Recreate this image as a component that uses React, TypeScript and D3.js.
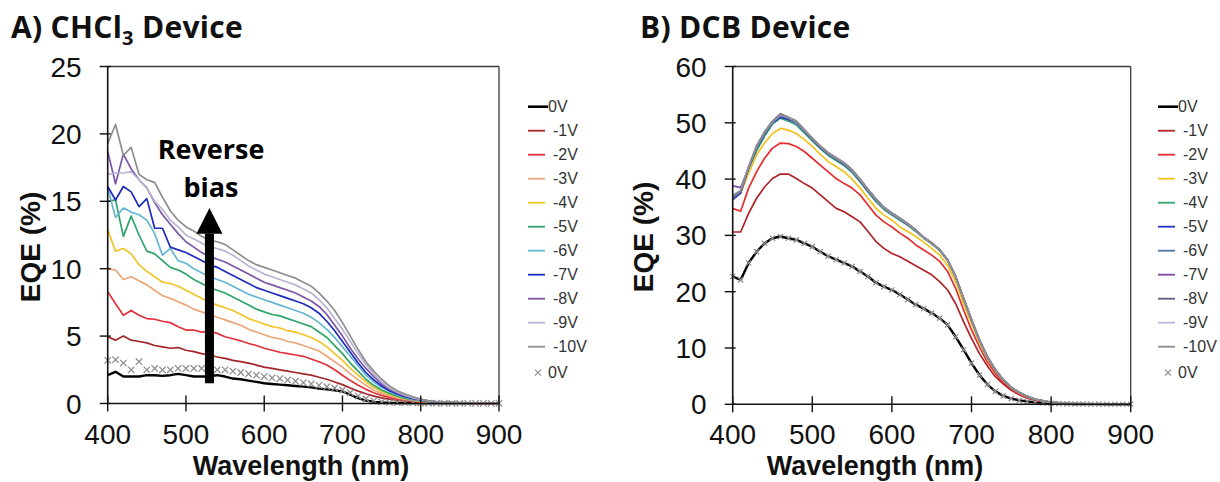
import React from 'react';
import * as d3 from 'd3';

// ---------- DATA ----------
const WAVELENGTH = [400,410,420,430,440,450,460,470,480,490,500,510,520,530,540,550,560,570,580,590,600,610,620,630,640,650,660,670,680,690,700,710,720,730,740,750,760,770,780,790,800,810,820,830,840,850,860,870,880,890,900];
const X_TICKS = [400, 500, 600, 700, 800, 900];
const Y_TICKS_A = [0, 5, 10, 15, 20, 25];
const Y_TICKS_B = [0, 10, 20, 30, 40, 50, 60];
const SERIES_LABELS = ['0V', '-1V', '-2V', '-3V', '-4V', '-5V', '-6V', '-7V', '-8V', '-9V', '-10V'];

// A) CHCl3 device
const A_0V = [2.1,2.35,2.0,2.0,2.0,2.1,2.1,2.05,2.1,2.2,2.1, 2.0,2.0,2.0,2.1,2.0,1.85,1.8,1.7,1.6,1.5, 1.45,1.4,1.35,1.3,1.25,1.2,1.1,1.05,0.98,0.9, 0.65,0.4,0.22,0.12,0.07,0.05,0.04,0.03,0.03,0.02, 0.02,0.02,0.01,0.01,0.01,0.01,0.01,0.01,0.01,0.01];
const A_1V = [4.95,4.7,5.0,4.7,4.6,4.5,4.3,4.2,4.1,4.15,3.95, 3.85,3.7,3.6,3.45,3.35,3.2,3.1,3.0,2.85,2.7, 2.6,2.5,2.4,2.3,2.2,2.1,1.95,1.8,1.6,1.4, 1.15,0.92,0.72,0.55,0.42,0.32,0.24,0.17,0.12,0.09, 0.06,0.05,0.04,0.03,0.02,0.02,0.01,0.01,0.01,0.01];
const A_2V = [8.3,7.4,6.55,6.9,6.55,6.3,6.25,6.1,6.0,5.7,5.45, 5.45,5.3,5.35,5.2,4.95,4.8,4.65,4.45,4.3,4.1, 3.95,3.8,3.7,3.6,3.5,3.3,3.1,2.85,2.5,2.1, 1.7,1.35,1.05,0.8,0.6,0.45,0.33,0.24,0.17,0.12, 0.08,0.06,0.05,0.04,0.03,0.02,0.02,0.01,0.01,0.01];
const A_3V = [10.0,9.9,9.2,9.4,9.1,8.8,8.4,8.0,7.8,7.55,7.3, 7.0,6.8,6.6,6.4,6.2,6.0,5.8,5.5,5.3,5.1, 4.9,4.8,4.6,4.5,4.3,4.1,3.9,3.5,3.1,2.7, 2.2,1.75,1.35,1.0,0.75,0.56,0.42,0.3,0.21,0.15, 0.1,0.08,0.06,0.04,0.03,0.03,0.02,0.02,0.01,0.01];
const A_4V = [12.9,11.3,11.5,11.1,10.3,9.8,9.4,9.0,8.9,8.7,8.4, 8.1,7.8,7.5,7.3,7.1,6.9,6.6,6.3,6.1,5.9, 5.7,5.6,5.4,5.3,5.1,4.9,4.6,4.2,3.7,3.2, 2.6,2.1,1.6,1.2,0.9,0.68,0.5,0.36,0.25,0.18, 0.13,0.09,0.07,0.05,0.04,0.03,0.02,0.02,0.02,0.01];
const A_5V = [15.0,15.1,12.4,13.9,12.5,11.3,11.1,10.6,10.1,9.9,9.6, 9.2,8.9,8.6,8.4,8.2,7.9,7.6,7.3,7.0,6.8, 6.6,6.5,6.3,6.1,5.9,5.7,5.3,4.9,4.3,3.7, 3.0,2.4,1.8,1.35,1.0,0.75,0.55,0.4,0.28,0.2, 0.14,0.1,0.07,0.05,0.04,0.03,0.03,0.02,0.02,0.02];
const A_6V = [16.0,13.8,14.5,14.2,14.0,13.6,12.6,11.0,11.5,10.6,10.4, 10.0,9.7,9.4,9.2,9.0,8.7,8.4,8.1,7.9,7.7, 7.5,7.3,7.1,6.9,6.7,6.4,6.0,5.5,4.9,4.2, 3.5,2.8,2.1,1.6,1.2,0.9,0.65,0.47,0.33,0.23, 0.16,0.11,0.08,0.06,0.05,0.04,0.03,0.02,0.02,0.02];
const A_7V = [16.1,15.1,16.1,15.7,14.6,15.2,13.0,13.0,11.6,11.4,11.2, 10.9,10.6,10.3,10.1,9.8,9.5,9.2,8.9,8.6,8.4, 8.2,8.0,7.8,7.6,7.4,7.1,6.7,6.1,5.4,4.6, 3.8,3.0,2.3,1.75,1.3,0.95,0.7,0.5,0.35,0.25, 0.17,0.12,0.09,0.07,0.05,0.04,0.03,0.03,0.02,0.02];
const A_8V = [18.7,16.3,18.5,17.4,16.6,16.0,14.9,14.0,13.3,12.6,12.0, 11.6,11.2,10.9,10.7,10.5,10.2,9.9,9.6,9.3,9.0, 8.8,8.6,8.4,8.2,7.9,7.6,7.2,6.6,5.8,5.0, 4.1,3.3,2.6,2.0,1.45,1.05,0.78,0.56,0.39,0.27, 0.18,0.13,0.1,0.07,0.05,0.04,0.03,0.03,0.02,0.02];
const A_9V = [17.0,17.1,17.1,17.2,16.6,16.0,15.0,14.4,13.6,13.1,12.5, 12.2,11.9,11.6,11.5,11.3,11.0,10.6,10.2,9.9,9.6, 9.4,9.2,9.0,8.8,8.5,8.2,7.7,7.1,6.3,5.5, 4.6,3.7,2.9,2.2,1.6,1.15,0.85,0.62,0.43,0.3, 0.2,0.14,0.1,0.08,0.06,0.05,0.04,0.03,0.02,0.02];
const A_10V = [19.3,20.7,18.4,19.0,17.0,16.6,16.4,15.3,14.3,13.6,13.1, 12.8,12.4,12.1,12.0,11.8,11.4,11.0,10.6,10.3,10.1, 9.9,9.7,9.5,9.3,9.0,8.7,8.2,7.6,6.9,6.0, 5.0,4.0,3.1,2.4,1.8,1.3,0.95,0.7,0.5,0.33, 0.22,0.15,0.1,0.08,0.06,0.05,0.04,0.03,0.02,0.02];
const A_0V_MARK = [3.2,3.25,3.0,2.5,3.1,2.5,2.6,2.5,2.5,2.6,2.6, 2.6,2.6,2.6,2.5,2.5,2.4,2.3,2.2,2.1,2.0, 1.9,1.85,1.75,1.65,1.55,1.45,1.35,1.25,1.15,1.0, 0.8,0.55,0.35,0.2,0.12,0.08,0.06,0.05,0.04,0.03, 0.02,0.02,0.02,0.01,0.01,0.01,0.01,0.01,0.01,0.01];

// B) DCB device
const B_0V = [22.7,22.1,25.1,27.1,28.6,29.5,29.8,29.5,29.2,28.6,28.0, 27.1,26.3,25.7,25.1,24.5,23.6,22.7,21.6,20.9,20.3, 19.5,18.6,17.7,17.0,16.2,15.3,14.1,12.0,9.7,7.3, 5.2,3.5,2.3,1.5,1.0,0.7,0.5,0.35,0.25,0.18, 0.12,0.08,0.06,0.05,0.04,0.03,0.02,0.02,0.01,0.01];
const B_1V = [30.6,30.6,33.9,36.6,38.6,40.1,40.9,40.9,40.1,39.2,38.4, 37.2,36.0,34.8,34.2,33.3,32.4,30.7,28.9,27.7,26.8, 26.2,25.4,24.6,23.8,23.0,21.8,20.3,17.9,14.7,11.7, 9.0,6.8,4.9,3.6,2.5,1.7,1.1,0.7,0.5,0.3, 0.2,0.13,0.09,0.06,0.05,0.04,0.03,0.02,0.02,0.01];
const B_2V = [34.8,34.3,38.4,41.3,43.7,45.5,46.4,46.3,45.8,44.9,43.7, 42.5,41.3,40.1,39.2,38.4,37.2,35.4,33.6,32.4,31.5, 30.4,29.5,28.3,27.4,26.5,25.4,23.6,20.6,16.8,13.2, 10.2,7.5,5.5,3.8,2.7,1.8,1.2,0.8,0.5,0.3, 0.2,0.13,0.09,0.06,0.05,0.04,0.03,0.02,0.02,0.01];
const B_3V = [37.2,37.5,41.0,44.3,46.4,48.1,49.0,48.7,48.1,47.0,45.8, 44.4,43.1,42.2,41.3,40.0,38.4,36.6,34.8,33.6,32.7, 31.5,30.7,29.8,28.8,27.7,26.5,24.7,21.8,17.9,14.3, 10.9,8.1,5.9,4.2,2.9,2.0,1.3,0.9,0.55,0.35, 0.22,0.14,0.1,0.07,0.05,0.04,0.03,0.02,0.02,0.01];
const B_4V = [36.8,37.9,41.8,45.0,47.6,49.8,50.8,50.3,49.6,48.2,46.8, 45.4,44.2,43.3,42.4,41.2,39.5,37.7,36.0,34.6,33.6, 32.7,31.8,30.7,29.5,28.5,27.3,25.5,22.6,18.7,14.9, 11.3,8.3,6.0,4.3,3.0,2.1,1.4,0.9,0.6,0.36, 0.24,0.14,0.1,0.07,0.05,0.04,0.03,0.02,0.02,0.01];
const B_5V = [36.3,37.5,42.0,45.5,48.0,50.0,51.0,50.6,50.0,48.5,47.0, 45.6,44.4,43.5,42.6,41.4,39.7,37.9,36.2,34.8,33.8, 32.9,31.9,30.8,29.6,28.6,27.4,25.6,22.7,18.8,15.0, 11.4,8.4,6.1,4.3,3.0,2.1,1.4,0.9,0.6,0.36, 0.24,0.14,0.1,0.07,0.05,0.04,0.03,0.02,0.02,0.01];
const B_6V = [36.5,37.8,42.1,45.7,48.2,50.1,51.3,50.8,50.1,48.6,47.1, 45.7,44.5,43.6,42.7,41.5,39.8,38.0,36.3,34.9,33.9, 33.0,32.0,30.9,29.6,28.6,27.4,25.6,22.7,18.8,15.0, 11.4,8.4,6.1,4.3,3.0,2.1,1.4,0.9,0.6,0.36, 0.24,0.14,0.1,0.07,0.05,0.04,0.03,0.02,0.02,0.01];
const B_7V = [38.8,38.5,42.0,45.8,48.3,50.2,51.5,50.9,50.2,48.7,47.2, 45.8,44.6,43.7,42.8,41.6,39.9,38.1,36.4,34.9,33.9, 33.0,32.0,30.9,29.6,28.6,27.4,25.6,22.7,18.8,15.0, 11.4,8.4,6.1,4.3,3.0,2.1,1.4,0.9,0.6,0.36, 0.24,0.14,0.1,0.07,0.05,0.04,0.03,0.02,0.02,0.01];
const B_8V = [36.8,37.9,42.2,45.9,48.4,50.3,51.6,51.0,50.3,48.8,47.3, 45.9,44.7,43.8,42.9,41.7,40.0,38.2,36.5,35.0,34.0, 33.1,32.1,31.0,29.7,28.7,27.5,25.7,22.8,18.9,15.1, 11.5,8.5,6.2,4.4,3.0,2.1,1.4,0.9,0.6,0.36, 0.24,0.14,0.1,0.07,0.05,0.04,0.03,0.02,0.02,0.01];
const B_9V = [37.2,38.0,42.2,45.8,48.3,50.2,51.4,50.9,50.2,48.7,47.2, 45.8,44.6,43.7,42.8,41.6,39.9,38.1,36.4,34.9,33.9, 33.0,32.0,30.9,29.6,28.6,27.4,25.6,22.7,18.8,15.0, 11.4,8.4,6.1,4.3,3.0,2.1,1.4,0.9,0.6,0.36, 0.24,0.14,0.1,0.07,0.05,0.04,0.03,0.02,0.02,0.01];
const B_10V = [37.0,37.9,42.2,45.8,48.3,50.2,51.5,50.9,50.2,48.7,47.2, 45.8,44.6,43.7,42.8,41.6,39.9,38.1,36.4,34.9,33.9, 33.0,32.0,30.9,29.6,28.6,27.4,25.6,22.7,18.8,15.0, 11.4,8.4,6.1,4.3,3.0,2.1,1.4,0.9,0.6,0.36, 0.24,0.14,0.1,0.07,0.05,0.04,0.03,0.02,0.02,0.01];
const B_0V_MARK = [22.7,22.1,25.1,27.1,28.6,29.5,29.8,29.5,29.2,28.6,28.0, 27.1,26.3,25.7,25.1,24.5,23.6,22.7,21.6,20.9,20.3, 19.5,18.6,17.7,17.0,16.2,15.3,14.1,12.0,9.7,7.3, 5.2,3.5,2.3,1.5,1.0,0.7,0.5,0.35,0.25,0.18, 0.12,0.08,0.06,0.05,0.04,0.03,0.02,0.02,0.01,0.01];

const COLORS_A = ['#000000', '#a3262a', '#e2313a', '#eba779', '#f2c42a', '#2ea56b', '#63b7d2', '#1e2bbf', '#7b56a9', '#b9b3d3', '#8e8e8e'];
const COLORS_B = ['#000000', '#b02328', '#e52d2f', '#f5c11f', '#31a770', '#2a32c6', '#4c73ab', '#7a4aa6', '#5b5b7a', '#bdb6d8', '#8b8b8b'];

const DATA_A = [A_0V, A_1V, A_2V, A_3V, A_4V, A_5V, A_6V, A_7V, A_8V, A_9V, A_10V];
const DATA_B = [B_0V, B_1V, B_2V, B_3V, B_4V, B_5V, B_6V, B_7V, B_8V, B_9V, B_10V];

const AXIS_FONT = "'Liberation Sans', Arial, sans-serif";
const TITLE_FONT = "'Open Sans', 'Noto Sans', sans-serif";

type PanelProps = {
  x0: number; x1: number; yBottom: number; yTop: number;
  yMax: number; yTicks: number[];
  data: number[][]; colors: string[]; marks: number[];
  legendX: number; xTitleX: number; yTitleX: number; yTitleY: number;
  markSize: number;
  children?: (x: d3.ScaleLinear<number, number>, y: d3.ScaleLinear<number, number>) => React.ReactNode;
};

function cross(cx: number, cy: number, s: number) {
  return `M${cx - s},${cy - s}L${cx + s},${cy + s}M${cx - s},${cy + s}L${cx + s},${cy - s}`;
}

function Panel(p: PanelProps) {
  const x = d3.scaleLinear().domain([400, 900]).range([p.x0, p.x1]);
  const y = d3.scaleLinear().domain([0, p.yMax]).range([p.yBottom, p.yTop]);
  const line = d3.line<number>().x((_, i) => x(WAVELENGTH[i])).y((d) => y(d)).curve(d3.curveLinear);
  const legendRow = (i: number) => 106.7 + i * 24;
  return (
    <g>
      {/* frame */}
      <line x1={p.x0} x2={p.x1} y1={p.yTop} y2={p.yTop} stroke="#3a3a3a" strokeWidth={1.3} />
      <line x1={p.x1} x2={p.x1} y1={p.yTop} y2={p.yBottom} stroke="#3a3a3a" strokeWidth={1.3} />
      {/* series */}
      {p.data.map((d, i) => (
        <path key={i} d={line(d) || ''} fill="none" stroke={p.colors[i]} strokeWidth={i === 0 ? 2.4 : 1.7} strokeLinejoin="round" />
      ))}
      {p.marks.map((v, i) => (
        <path key={'m' + i} d={cross(x(WAVELENGTH[i]), y(v), p.markSize)} stroke="#8f8f8f" strokeWidth={1.3} fill="none" />
      ))}
      {/* axes */}
      <line x1={p.x0} x2={p.x0} y1={p.yTop} y2={p.yBottom} stroke="#111" strokeWidth={1.6} />
      <line x1={p.x0} x2={p.x1} y1={p.yBottom} y2={p.yBottom} stroke="#111" strokeWidth={1.6} />
      {p.yTicks.map((t) => (
        <g key={'yt' + t}>
          <line x1={p.x0 - 8} x2={p.x0 + 3} y1={y(t)} y2={y(t)} stroke="#111" strokeWidth={1.4} />
          <text x={p.x0 - 26} y={y(t)} dy="0.36em" textAnchor="end" fontFamily={AXIS_FONT} fontSize={28} fill="#111">{t}</text>
        </g>
      ))}
      {X_TICKS.map((t) => (
        <g key={'xt' + t}>
          <line x1={x(t)} x2={x(t)} y1={p.yBottom - 8} y2={p.yBottom + 8} stroke="#111" strokeWidth={1.4} />
          <text x={x(t)} y={p.yBottom + 30} dy="0.36em" textAnchor="middle" fontFamily={AXIS_FONT} fontSize={28} fill="#111">{t}</text>
        </g>
      ))}
      <text x={p.xTitleX} y={475} textAnchor="middle" fontFamily={AXIS_FONT} fontWeight="bold" fontSize={27} fill="#111">Wavelength (nm)</text>
      <text transform={`translate(${p.yTitleX},${p.yTitleY}) rotate(-90)`} textAnchor="middle" dy="0.36em" fontFamily={AXIS_FONT} fontWeight="bold" fontSize={28} fill="#111">EQE (%)</text>
      {/* legend */}
      {SERIES_LABELS.map((lab, i) => (
        <g key={'lg' + i}>
          <line x1={p.legendX} x2={p.legendX + (i === 0 ? 20 : 17)} y1={legendRow(i)} y2={legendRow(i)} stroke={p.colors[i]} strokeWidth={i === 0 ? 2.6 : 1.8} />
          <text x={p.legendX + (i === 0 ? 20 : 25)} y={legendRow(i)} dy="0.36em" fontFamily={AXIS_FONT} fontSize={16} fill="#333">{lab}</text>
        </g>
      ))}
      <path d={cross(p.legendX + 10, legendRow(11) + 2, 3)} stroke="#8f8f8f" strokeWidth={1.2} />
      <text x={p.legendX + 20} y={legendRow(11) + 2} dy="0.36em" fontFamily={AXIS_FONT} fontSize={16} fill="#333">0V</text>
      {p.children ? p.children(x, y) : null}
    </g>
  );
}

export default function App() {
  return (
    <div style={{ position: 'absolute', left: 0, top: 0, width: 1220, height: 482, background: '#fff' }}>
      <svg width={1220} height={482} style={{ display: 'block' }}>
        <rect width={1220} height={482} fill="#fff" />
        <text x={11} y={38} fontFamily={TITLE_FONT} fontWeight={700} fontSize={30} letterSpacing={0.3} fill="#111">
          A) CHCl<tspan fontSize={20} dy={7}>3</tspan><tspan dy={-7}> Device</tspan>
        </text>
        <text x={640} y={38} fontFamily={TITLE_FONT} fontWeight={700} fontSize={30} letterSpacing={0.3} fill="#111">B) DCB Device</text>
        <Panel x0={107.7} x1={499} yBottom={403.5} yTop={66.5} yMax={25} yTicks={Y_TICKS_A}
          data={DATA_A} colors={COLORS_A} marks={A_0V_MARK} legendX={528}
          xTitleX={301} yTitleX={30} yTitleY={247} markSize={3.2}>
          {(x, y) => (
            <g>
              <text x={x(532)} y={159} textAnchor="middle" fontFamily={TITLE_FONT} fontWeight={700} fontSize={27} fill="#000">Reverse</text>
              <text x={x(532)} y={197} textAnchor="middle" fontFamily={TITLE_FONT} fontWeight={700} fontSize={27} fill="#000">bias</text>
              <rect x={x(530) - 4.5} width={9} y={y(12.6)} height={y(1.5) - y(12.6)} fill="#000" />
              <path d={`M${x(530) - 13},${y(12.6)}L${x(530)},${y(14.5)}L${x(530) + 13},${y(12.6)}Z`} fill="#000" />
            </g>
          )}
        </Panel>
        <Panel x0={732.7} x1={1130.7} yBottom={404.3} yTop={66.5} yMax={60} yTicks={Y_TICKS_B}
          data={DATA_B} colors={COLORS_B} marks={B_0V_MARK} legendX={1158}
          xTitleX={875} yTitleX={643} yTitleY={237} markSize={2.6} />
      </svg>
    </div>
  );
}
